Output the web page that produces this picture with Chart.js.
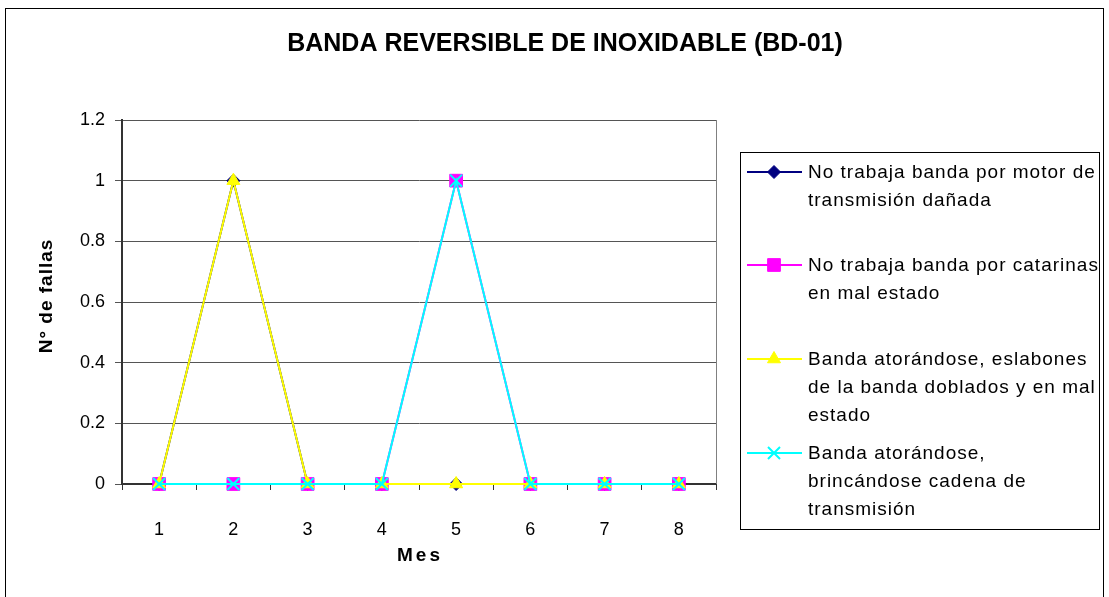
<!DOCTYPE html>
<html>
<head>
<meta charset="utf-8">
<script src="https://cdn.jsdelivr.net/npm/chart.js@4.4.1/dist/chart.umd.min.js"></script>
<style>
  html, body { margin: 0; padding: 0; background: #fff; }
  #wrap { width: 1109px; height: 597px; position: relative; }
</style>
</head>
<body>
<div id="wrap"><canvas id="c" width="1109" height="597"></canvas></div>
<script>
// datos
const meses = ['1', '2', '3', '4', '5', '6', '7', '8'];
const motorDanado = [0, 1, 0, 0, 0, 0, 0, 0];
const catarinas = [0, 0, 0, 0, 1, 0, 0, 0];
const eslabones = [0, 1, 0, 0, 0, 0, 0, 0];
const cadena = [0, 0, 0, 0, 1, 0, 0, 0];

const titulo = 'BANDA REVERSIBLE DE INOXIDABLE (BD-01)';
const tituloY = 'N° de fallas';
const tituloX = 'Mes';
const etiquetas = [
  ['No trabaja banda por motor de', 'transmisión dañada'],
  ['No trabaja banda por catarinas', 'en mal estado'],
  ['Banda atorándose, eslabones', 'de la banda doblados y en mal', 'estado'],
  ['Banda atorándose,', 'brincándose cadena de', 'transmisión'],
];

const FONT = '"Liberation Sans", Arial, sans-serif';

function serie(label, data, color, punto, radio, orden) {
  return {
    label, data,
    borderColor: color, backgroundColor: color,
    pointBackgroundColor: color, pointBorderColor: color,
    pointStyle: punto, pointRadius: radio, pointHoverRadius: radio,
    pointBorderWidth: punto === 'crossRot' ? 2 : 1,
    borderWidth: 2, tension: 0, clip: false, order: orden,
  };
}

const datasets = [
  serie(etiquetas[0], motorDanado, '#000080', 'rectRot', 6.5, 4),
  serie(etiquetas[1], catarinas, '#FF00FF', 'rect', 9, 3),
  serie(etiquetas[2], eslabones, '#FFFF00', 'triangle', 7.5, 2),
  serie(etiquetas[3], cadena, '#00FFFF', 'crossRot', 8.5, 1),
];

// titulos, borde y leyenda dibujados a mano
const extras = {
  id: 'extras',
  afterDraw(chart) {
    const ctx = chart.ctx;
    const a = chart.chartArea;
    ctx.save();
    // borde exterior
    ctx.strokeStyle = '#000';
    ctx.lineWidth = 1;
    ctx.strokeRect(5.5, 8.5, 1098, 600);
    // borde derecho del area
    ctx.strokeStyle = '#808080';
    ctx.beginPath();
    ctx.moveTo(Math.round(a.right) + 0.5, a.top);
    ctx.lineTo(Math.round(a.right) + 0.5, a.bottom);
    ctx.stroke();

    ctx.fillStyle = '#000';
    ctx.textAlign = 'center';
    ctx.textBaseline = 'middle';
    ctx.font = 'bold 25px ' + FONT;
    ctx.fillText(titulo, 565, 44);

    ctx.font = 'bold 19px ' + FONT;
    ctx.letterSpacing = '3px';
    ctx.fillText(tituloX, (a.left + a.right) / 2 + 1, 556);
    ctx.letterSpacing = '1px';
    ctx.save();
    ctx.translate(47, 296);
    ctx.rotate(-Math.PI / 2);
    ctx.fillText(tituloY, 0, 0);
    ctx.restore();

    // leyenda
    ctx.strokeStyle = '#000';
    ctx.lineWidth = 1;
    ctx.strokeRect(740.5, 152.5, 359, 377);
    const filas = [172, 265, 359, 453];
    ctx.textAlign = 'left';
    ctx.font = '19px ' + FONT;
    ctx.letterSpacing = '1px';
    chart.data.datasets.forEach((ds, i) => {
      const y = filas[i];
      ctx.strokeStyle = ds.borderColor;
      ctx.fillStyle = ds.pointBackgroundColor;
      ctx.lineWidth = 2;
      ctx.beginPath();
      ctx.moveTo(747, y);
      ctx.lineTo(802, y);
      ctx.stroke();
      ctx.lineWidth = ds.pointBorderWidth;
      Chart.helpers.drawPoint(ctx, {
        pointStyle: ds.pointStyle, radius: ds.pointRadius, rotation: 0,
        borderWidth: ds.pointBorderWidth,
      }, 774, y);
      ctx.fillStyle = '#000';
      ds.label.forEach((t, j) => ctx.fillText(t, 808, y + 1 + j * 28));
    });
    ctx.restore();
  }
};

new Chart(document.getElementById('c'), {
  type: 'line',
  data: { labels: meses, datasets },
  options: {
    responsive: false,
    animation: false,
    layout: { padding: { left: 0, top: 120, right: 393, bottom: 0 } },
    plugins: { legend: { display: false }, tooltip: { enabled: false }, title: { display: false } },
    scales: {
      x: {
        offset: true,
        afterFit: s => { s.height = 113; },
        grid: { offset: true, drawOnChartArea: false, drawTicks: true, tickLength: 6, color: '#333', lineWidth: 1 },
        border: { color: '#333', width: 2 },
        ticks: { color: '#000', font: { family: FONT, size: 18 }, padding: 29, maxRotation: 0 },
      },
      y: {
        min: 0, max: 1.2,
        afterFit: s => { s.width = 122; },
        grid: { color: '#555', lineWidth: 1, tickLength: 7, drawTicks: true },
        border: { color: '#333', width: 2 },
        ticks: {
          stepSize: 0.2, color: '#000', font: { family: FONT, size: 18 }, padding: 10,
          callback: v => String(Math.round(v * 10) / 10),
        },
      }
    }
  },
  plugins: [extras]
});
</script>
</body>
</html>
